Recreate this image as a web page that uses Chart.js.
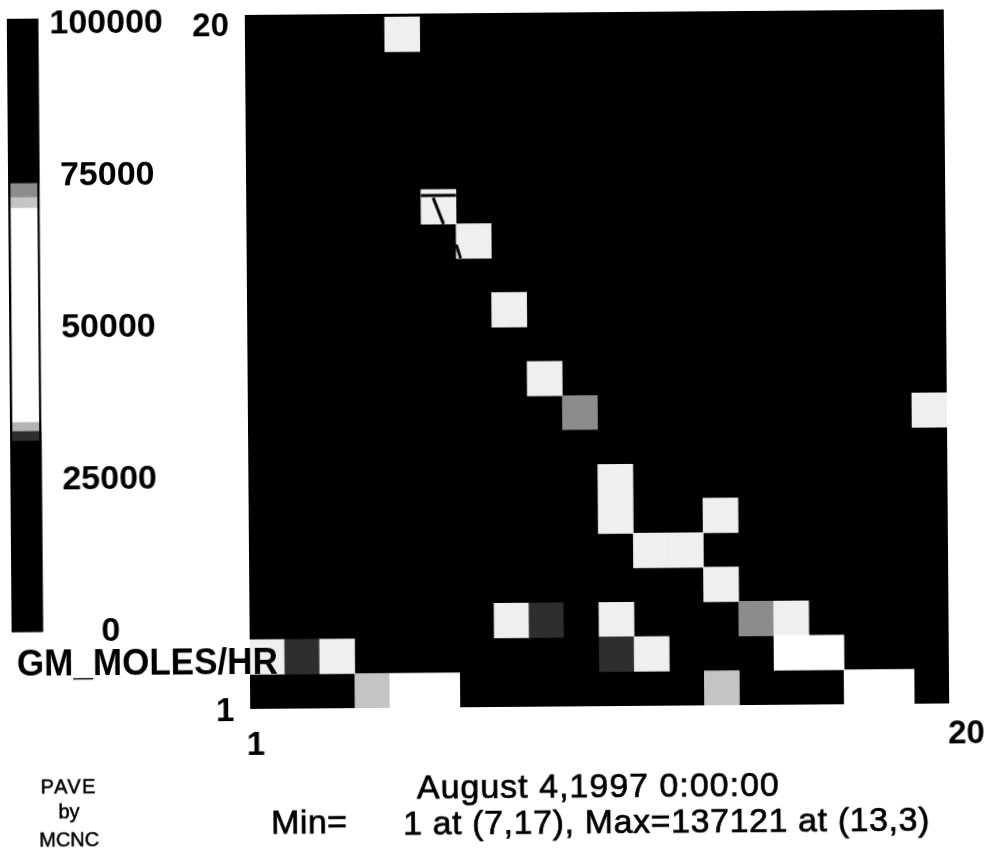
<!DOCTYPE html>
<html><head><meta charset="utf-8">
<script src="https://cdn.jsdelivr.net/npm/chart.js@4"></script>
<style>
html,body{margin:0;padding:0;background:#fff;overflow:hidden}
#w{position:absolute;left:0;top:0;width:990px;height:851px;transform:rotate(-0.45deg);transform-origin:495px 425px}
#w div{position:absolute}
</style></head><body>
<div id="w">
<div style="left:0;top:0;width:990px;height:851px"><canvas id="map"></canvas></div>
<div style="left:0;top:0;width:240px;height:660px"><canvas id="bar"></canvas></div>
</div>
<script>
// ---- data ----
const columns = ['1','2','3','4','5','6','7','8','9','10','11','12','13','14','15','16','17','18','19','20'];
const cellCols   = [5,6,7,8,9,10,20,10,11,11,14,12,13,14,8,9,10,11,15,16,1,2,3,11,12,16,17,4,5,6,14,18,19];
const cellRows   = [20,15,14,12,10,9,9,8,7,6,6,5,5,4,3,3,3,3,3,3,2,2,2,2,2,2,2,1,1,1,1,1,1];
const cellValues = [66000,66000,66000,66000,66000,72000,66000,31000,66000,66000,66000,66000,66000,66000,
                    66000,32000,31000,66000,72000,66000,66000,32000,66000,32000,66000,50000,50000,
                    70500,50000,50000,70500,50000,50000];
const scaleTicks = [0,25000,50000,75000,100000];
const scaleTop   = 100900;
const bandEdges  = [0,31400,33000,34500,62000,69700,71500,73800,scaleTop];
const bandShades = ['#000000','#2e2e2e','#b4b4b4','#ffffff','#ffffff','#c4c4c4','#8c8c8c','#000000'];
const cellLight  = '#efefef';
const contourAX = [5,6],       contourAY = [14.83,14.83];
const contourBX = [5.35,5.64], contourBY = [14.76,14];
const contourCX = [6,6.12],    contourCY = [13.4,13];
const yTickValues = [-0.08,19.75];
const yTickLabels = ['1','20'];
const xTickLabels = ['1','20'];
const unitLabel = 'GM_MOLES/HR';
const dateLabel = 'August 4,1997 0:00:00';
const rangeLabelA = 'Min=', rangeLabelB = '1 at (7,17), Max=137121 at (13,3)';
const creditLines = ['PAVE','by','MCNC'];
// ------------------------------------
Chart.defaults.animation = false;
Chart.defaults.font.family = '"Liberation Sans", Arial, sans-serif';
const shade = v => {
  if (v >= bandEdges[4] && v < bandEdges[5]) return cellLight;
  for (let i=0;i<bandShades.length;i++) if (v < bandEdges[i+1]) return bandShades[i];
  return '#000';
};
const cells = cellCols.map((c,i)=>({x:columns[c-1], y:[cellRows[i]-1,cellRows[i]], v:cellValues[i]}));
const line = (xs,ys)=>({type:'line',xAxisID:'xc',yAxisID:'y',data:xs.map((x,i)=>({x,y:ys[i]})),
  borderColor:'#000',borderWidth:3,pointRadius:0,order:0});

const paper = {id:'paper',
  beforeDatasetsDraw(c){const a=c.chartArea;c.ctx.fillStyle='#000';c.ctx.fillRect(a.left,a.top,a.width,a.height);},
  afterDraw(c){
    const g=c.ctx; g.save(); g.fillStyle='#000'; g.strokeStyle='#000'; g.textBaseline='middle';
    const put=(t,px,py,size,w,align='left',wt='normal',sp=0,hv=0)=>{
      g.font=wt+' '+size+'px "Liberation Sans"';g.textAlign=align;g.letterSpacing=sp+'px';
      g.fillText(t,px,py,w);
      if(hv){g.lineWidth=hv;g.strokeText(t,px,py,w);}
    };
    put(xTickLabels[0],253.5,744,33,30,'center','bold');
    put(xTickLabels[1],964,738,33,40,'center','bold');
    put(unitLabel,15,662,36,261,'left','bold');
    put(dateLabel,414,789,34,363,'left','normal',1,0.7);
    put(rangeLabelA,268,823,34,80,'left','normal',0.4,0.7);
    put(rangeLabelB,400,825,34,527,'left','normal',0.6,0.7);
    creditLines.forEach((t,i)=>put(t,66,[784,809,837][i],20,60,'center','normal',i==0?1.5:0,0.5));
    g.restore();
  }};

new Chart(document.getElementById('map'),{
  type:'bar',
  data:{labels:columns,datasets:[
    {data:cells,backgroundColor:ctx=>shade(ctx.raw.v),barPercentage:1,categoryPercentage:1,borderWidth:0,order:2,grouped:false},
    line(contourAX,contourAY),line(contourBX,contourBY),line(contourCX,contourCY)
  ]},
  plugins:[paper],
  options:{responsive:true,maintainAspectRatio:false,
    layout:{padding:{left:185,top:13,right:43,bottom:144}},
    plugins:{legend:{display:false},tooltip:{enabled:false}},
    scales:{
      x:{display:false,offset:true,grid:{display:false}},
      xc:{type:'linear',display:false,min:0,max:20,offset:false},
      y:{type:'linear',min:0,max:20.1,
        afterFit:s=>{s.width=63;s.paddingTop=0;s.paddingBottom=0;},
        afterBuildTicks:s=>{s.ticks=yTickValues.map(value=>({value}));},
        grid:{display:false,drawTicks:false},border:{display:false},
        ticks:{color:'#000',padding:16,font:{size:33,weight:'bold'},
          callback:(v,i)=>yTickLabels[i]}}
    }}
});

new Chart(document.getElementById('bar'),{
  type:'bar',
  data:{labels:[''],datasets:bandShades.map((s,i)=>({
    data:[[bandEdges[i],bandEdges[i+1]]],backgroundColor:s,barPercentage:1,categoryPercentage:1,borderWidth:0,grouped:false,order:1}))
    .concat([{data:[[0,scaleTop]],backgroundColor:'rgba(0,0,0,0)',borderColor:'#000',borderWidth:2,borderSkipped:false,barPercentage:1,categoryPercentage:1,grouped:false,order:0}])},
  options:{responsive:true,maintainAspectRatio:false,
    layout:{padding:{left:10,top:15,right:0,bottom:31.5}},
    plugins:{legend:{display:false},tooltip:{enabled:false}},
    scales:{
      x:{display:false},
      y:{position:'right',min:0,max:scaleTop,
        afterFit:s=>{s.width=198.5;s.paddingTop=0;s.paddingBottom=0;},
        afterBuildTicks:s=>{s.ticks=scaleTicks.map(value=>({value}));},
        grid:{display:false,drawTicks:false},border:{display:false},
        ticks:{color:'#000',padding:11,crossAlign:'center',font:{size:34,weight:'bold'}, callback:v=>String(v)}}
    }}
});
</script>
</body></html>
